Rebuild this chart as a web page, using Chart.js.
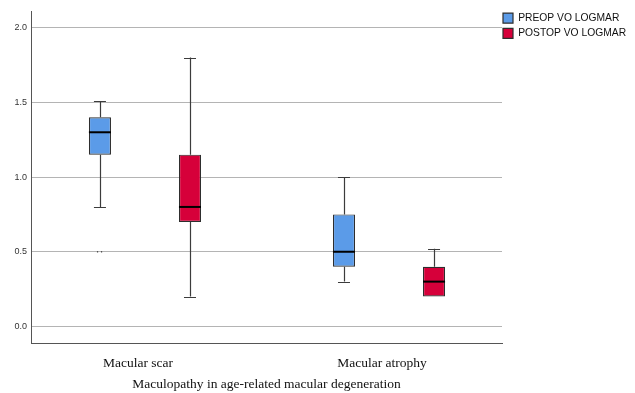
<!DOCTYPE html>
<html>
<head>
<meta charset="utf-8">
<script src="https://cdn.jsdelivr.net/npm/chart.js@4/dist/chart.umd.min.js"></script>
<style>
  html, body { margin: 0; padding: 0; background: #fff; }
  #wrap { width: 635px; height: 393px; }
</style>
</head>
<body>
<div id="wrap"><canvas id="chart" width="635" height="393"></canvas></div>
<script>
// ---------- Data ----------
const groups = ["Macular scar", "Macular atrophy"];
const seriesNames = ["PREOP VO LOGMAR", "POSTOP VO LOGMAR"];

const preopMin = [0.80, 0.30];
const preopQ1 = [1.15, 0.40];
const preopMedian = [1.30, 0.50];
const preopQ3 = [1.40, 0.75];
const preopMax = [1.51, 1.00];
const preopOutliers = [[0.50], []];

const postopMin = [0.20, 0.20];
const postopQ1 = [0.70, 0.20];
const postopMedian = [0.80, 0.30];
const postopQ3 = [1.15, 0.40];
const postopMax = [1.80, 0.52];
const postopOutliers = [[], []];

const yTicks = [0, 0.5, 1.0, 1.5, 2.0];

// ---------- Helpers ----------
const boxData = (q1, q3) => groups.map((_, i) => ({ x: i, y: [q1[i], q3[i]] }));

const stats = [
  { min: preopMin, med: preopMedian, max: preopMax, q1: preopQ1, q3: preopQ3, out: preopOutliers },
  { min: postopMin, med: postopMedian, max: postopMax, q1: postopQ1, q3: postopQ3, out: postopOutliers },
];

// whiskers, caps, medians and outliers on top of the floating bars
const boxPlotExtras = {
  id: "boxPlotExtras",
  afterDatasetsDraw(chart) {
    const ctx = chart.ctx;
    const y = chart.scales.y;
    ctx.save();
    stats.forEach((s, di) => {
      const meta = chart.getDatasetMeta(di);
      meta.data.forEach((bar, i) => {
        const cx = bar.x;
        const half = bar.width / 2;
        const cap = 6;
        const yq1 = y.getPixelForValue(s.q1[i]);
        const yq3 = y.getPixelForValue(s.q3[i]);
        const ymin = y.getPixelForValue(s.min[i]);
        const ymax = y.getPixelForValue(s.max[i]);
        const ymed = y.getPixelForValue(s.med[i]);

        ctx.strokeStyle = "#3c3c3c";
        ctx.lineWidth = 1.2;
        ctx.beginPath();
        if (s.max[i] > s.q3[i]) {
          ctx.moveTo(Math.round(cx) + 0.5, yq3);
          ctx.lineTo(Math.round(cx) + 0.5, ymax);
          ctx.moveTo(cx - cap, Math.round(ymax) + 0.5);
          ctx.lineTo(cx + cap, Math.round(ymax) + 0.5);
        }
        if (s.min[i] < s.q1[i]) {
          ctx.moveTo(Math.round(cx) + 0.5, yq1);
          ctx.lineTo(Math.round(cx) + 0.5, ymin);
          ctx.moveTo(cx - cap, Math.round(ymin) + 0.5);
          ctx.lineTo(cx + cap, Math.round(ymin) + 0.5);
        }
        ctx.stroke();

        ctx.strokeStyle = "#000";
        ctx.lineWidth = 2;
        ctx.beginPath();
        ctx.moveTo(cx - half, ymed);
        ctx.lineTo(cx + half, ymed);
        ctx.stroke();

        ctx.fillStyle = "#333";
        s.out[i].forEach((v) => {
          const yo = y.getPixelForValue(v);
          ctx.fillRect(cx - 3, yo - 0.5, 1.2, 1.2);
          ctx.fillRect(cx + 1, yo - 0.5, 1.2, 1.2);
        });
      });
    });
    ctx.restore();
  },
};

// the legend sits just right of the plot, a touch higher than the plot top
const legendNudge = {
  id: "legendNudge",
  afterLayout(chart) {
    chart.legend.left -= 4;
    chart.legend.top -= 3;
  },
};

new Chart(document.getElementById("chart"), {
  type: "bar",
  data: {
    datasets: [
      {
        label: seriesNames[0],
        data: boxData(preopQ1, preopQ3),
        backgroundColor: "#5b9be8",
        borderColor: "#2e2e2e",
        borderWidth: 1.2,
        borderSkipped: false,
      },
      {
        label: seriesNames[1],
        data: boxData(postopQ1, postopQ3),
        backgroundColor: "#d6003a",
        borderColor: "#2e2e2e",
        borderWidth: 1.2,
        borderSkipped: false,
      },
    ],
  },
  options: {
    responsive: false,
    animation: false,
    events: [],
    categoryPercentage: 0.738,
    barPercentage: 0.245,
    layout: { padding: { top: 11, right: 0, left: 0, bottom: 0 } },
    plugins: {
      legend: {
        position: "right",
        align: "start",
        maxWidth: 133,
        labels: {
          boxWidth: 10,
          boxHeight: 10,
          padding: 5,
          color: "#111",
          font: { family: "Liberation Sans, Arial, sans-serif", size: 10.3 },
        },
      },
      tooltip: { enabled: false },
    },
    scales: {
      x: {
        type: "linear",
        offset: false,
        min: -0.467,
        max: 1.463,
        afterBuildTicks: (scale) => { scale.ticks = groups.map((_, i) => ({ value: i })); },
        afterFit: (scale) => { scale.height = 50; },
        grid: { display: false },
        border: { display: true, color: "#555", width: 1 },
        ticks: {
          autoSkip: false,
          maxRotation: 0,
          padding: 4,
          labelOffset: -7,
          color: "#111",
          font: { family: "Liberation Serif, Times New Roman, serif", size: 13.5 },
          callback: (v) => groups[v] ?? "",
        },
        title: {
          display: true,
          text: "Maculopathy in age-related macular degeneration",
          color: "#111",
          padding: { top: 6, bottom: 0 },
          font: { family: "Liberation Serif, Times New Roman, serif", size: 13.5 },
        },
      },
      y: {
        min: -0.111,
        max: 2.112,
        afterBuildTicks: (scale) => { scale.ticks = yTicks.map((v) => ({ value: v })); },
        afterFit: (scale) => { scale.width = 31; },
        grid: { color: "#b4b4b4", lineWidth: 1, drawTicks: false },
        border: { display: true, color: "#555", width: 1 },
        ticks: {
          padding: 4,
          color: "#333",
          font: { family: "Liberation Sans, Arial, sans-serif", size: 9 },
          callback: (v) => Number(v).toFixed(1),
        },
      },
    },
  },
  plugins: [boxPlotExtras, legendNudge],
});
</script>
</body>
</html>
